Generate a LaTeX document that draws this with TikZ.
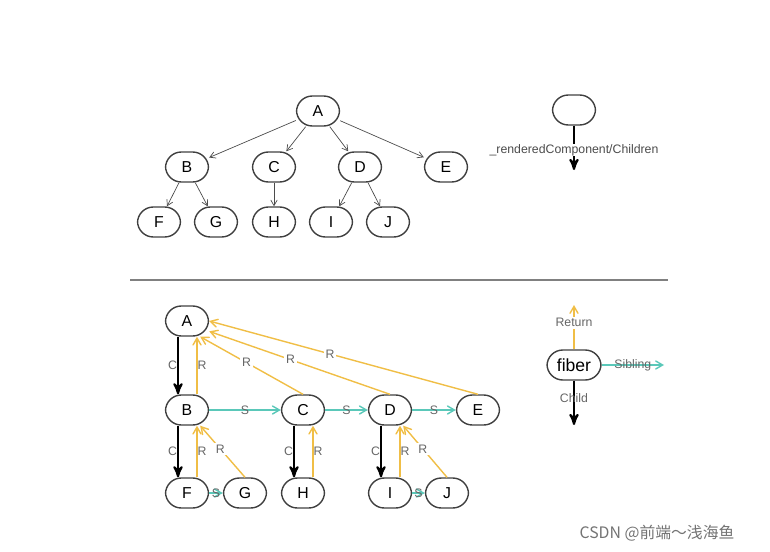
\documentclass[tikz,border=0pt]{standalone}
\usepackage{fontspec}
\setmainfont{Liberation Sans}
\newfontfamily\cjk{Noto Sans CJK SC}
\usetikzlibrary{arrows}
\definecolor{retcol}{RGB}{240,190,70}
\definecolor{sibcol}{RGB}{90,200,185}
\begin{document}
\begin{tikzpicture}
            [
                x=0.02cm, y=-0.02cm,
                treenode/.style={rectangle, rounded corners=9pt, draw=black!75, thick, minimum width=0.86cm, minimum height=0.6cm, font=\small},
                childline/.style={->, >=stealth', very thick, black},
                treeline/.style={->, >=angle 60, black!70},
                returnline/.style={->, >=angle 60, retcol, thick},
                siblingline/.style={->, >=angle 60, sibcol, thick},
                edgelabel/.style={font=\scriptsize, text=black!60, inner sep=1pt},
            ]
            \useasboundingbox (0,0) rectangle (770,551);

            %% TOP TREE
            \node[treenode] (ta) at (318,111) {A};
            \node[treenode] (tb) at (187,167) {B};
            \node[treenode] (tc) at (274,167) {C};
            \node[treenode] (td) at (360,167) {D};
            \node[treenode] (te) at (446,167) {E};
            \node[treenode] (tf) at (159,222) {F};
            \node[treenode] (tg) at (216,222) {G};
            \node[treenode] (th) at (274,222) {H};
            \node[treenode] (ti) at (331,222) {I};
            \node[treenode] (tj) at (388,222) {J};
            \foreach \p/\c in {ta/tb,ta/tc,ta/td,ta/te,tb/tf,tb/tg,tc/th,td/ti,td/tj}
                \draw[treeline] (\p) -- (\c);

            %% TOP KEY
            \node[treenode] (keynode) at (574,110) {};
            \coordinate (keyend) at (574,170);
            \draw[childline] (keynode) -- (keyend)
                node[pos=0.55, fill=white, font=\scriptsize, text=black!70, inner sep=0pt] {\_renderedComponent/Children};

            \draw[black!50, thick] (130,280) -- (668,280);

            %% FIBER TREE
            \node[treenode] (fa) at (187,321) {A};
            \node[treenode] (fb) at (187,410) {B};
            \node[treenode] (fc) at (303,410) {C};
            \node[treenode] (fd) at (390,410) {D};
            \node[treenode] (fe) at (478,410) {E};
            \node[treenode] (ff) at (187,493) {F};
            \node[treenode] (fg) at (245,493) {G};
            \node[treenode] (fh) at (303,493) {H};
            \node[treenode] (fi) at (390,493) {I};
            \node[treenode] (fj) at (447,493) {J};

            % child and return pairs
            \foreach \p/\c in {fa/fb,fb/ff,fc/fh,fd/fi}
            {
                \draw[childline] ([xshift=-0.18cm]\p.south) -- ([xshift=-0.18cm]\c.north)
                    node[edgelabel, midway, left=-1pt] {C};
                \draw[returnline] ([xshift=0.2cm]\c.north) -- ([xshift=0.2cm]\p.south)
                    node[edgelabel, midway, right=-1pt] {R};
            }
            \foreach \c/\p/\e in {fc/fa/-50,fd/fa/-25,fe/fa/0,fg/fb/-50,fj/fd/-50}
                \draw[returnline] (\c.north) -- (\p.\e)
                    node[edgelabel, pos=0.55, fill=white] {R};

            % siblings
            \foreach \a/\b in {fb/fc,fc/fd,fd/fe,ff/fg,fi/fj}
                \draw[siblingline] (\a) -- (\b) node[edgelabel, midway] {S};

            %% BOTTOM KEY
            \node[treenode, font=\normalsize, minimum width=1.08cm] (fiber) at (574,365) {fiber};
            \coordinate (retend) at (574,305);
            \coordinate (sibend) at (664,365);
            \coordinate (childend) at (574,425);
            \draw[returnline] (fiber) -- (retend) node[edgelabel, pos=0.6, fill=white] {Return};
            \draw[siblingline] (fiber) -- (sibend) node[edgelabel, pos=0.5] {Sibling};
            \draw[childline] (fiber) -- (childend) node[edgelabel, pos=0.4] {Child};

            \node[font=\cjk\small, text=black!55] (mark) at (657,533) {CSDN @前端～浅海鱼};
\end{tikzpicture}
\end{document}
